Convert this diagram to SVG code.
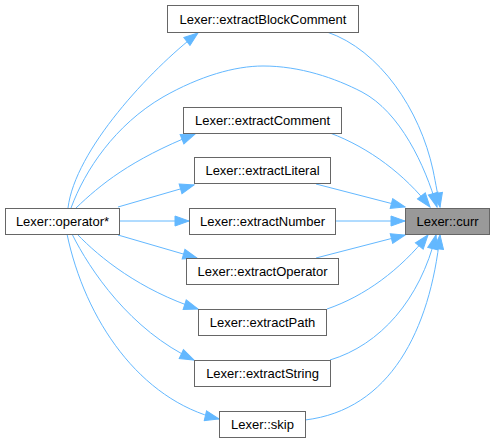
<svg xmlns="http://www.w3.org/2000/svg" width="495" height="443" viewBox="0 0 495 443">
<style>
.node rect{fill:#ffffff;stroke:#666666;stroke-width:1}
.node.hl rect{fill:#999999}
.node text{font-family:"Liberation Sans",Arial,Helvetica,sans-serif;font-size:13px;fill:#000000;text-anchor:middle}
.edge{fill:none;stroke:#63b8ff;stroke-width:1;marker-end:url(#ah)}
</style>
<defs>
<marker id="ah" markerUnits="userSpaceOnUse" markerWidth="16" markerHeight="12" refX="14" refY="5" orient="auto" viewBox="-1 -1 16 12">
<path d="M0,0 L14,5 L0,10 z" fill="#63b8ff" stroke="#63b8ff" stroke-width="1"/>
</marker>
</defs>
<rect width="495" height="443" fill="#ffffff"/>
<g id="edges">
<path class="edge" d="M327,32 C380,50 420,110 433,170 C436,185 438,196 440,207"/>
<path class="edge" d="M71,208 C85,170 115,125 163,97 C200,76 235,66 263,66 C300,66 335,78 362,92 C400,112 425,165 437,207"/>
<path class="edge" d="M330,133 C370,148 405,175 430,207"/>
<path class="edge" d="M316,184 L405,207"/>
<path class="edge" d="M336,221 L405,221"/>
<path class="edge" d="M316,258 L405,235"/>
<path class="edge" d="M327,309 C365,296 400,270 428,235"/>
<path class="edge" d="M330,360 C380,345 420,300 436,235"/>
<path class="edge" d="M305,420 C390,410 430,330 440,235"/>
<path class="edge" d="M68,208 C75,150 150,70 198,33"/>
<path class="edge" d="M76,208 C100,185 130,160 195,134"/>
<path class="edge" d="M118,207 L194,185"/>
<path class="edge" d="M119,221 L189,221"/>
<path class="edge" d="M118,235 L197,258"/>
<path class="edge" d="M77,234 C100,258 140,290 198,309"/>
<path class="edge" d="M72,234 C90,270 130,330 194,360"/>
<path class="edge" d="M67,234 C85,320 140,400 219,419"/>
</g>
<g id="node-extractBlockComment" class="node"><rect x="167.5" y="5.5" width="191" height="27"/><text x="263" y="23.5">Lexer::extractBlockComment</text></g>
<g id="node-extractComment" class="node"><rect x="183.5" y="107.5" width="158" height="26"/><text x="262.5" y="125">Lexer::extractComment</text></g>
<g id="node-extractLiteral" class="node"><rect x="194.5" y="157.5" width="136" height="26"/><text x="262.5" y="175">Lexer::extractLiteral</text></g>
<g id="node-operator" class="node"><rect x="5.5" y="208.5" width="114" height="26"/><text x="62.5" y="226">Lexer::operator*</text></g>
<g id="node-extractNumber" class="node"><rect x="189.5" y="208.5" width="146" height="26"/><text x="262.5" y="226">Lexer::extractNumber</text></g>
<g id="node-curr" class="node hl"><rect x="405.5" y="208.5" width="84" height="26"/><text x="447.5" y="226">Lexer::curr</text></g>
<g id="node-extractOperator" class="node"><rect x="186.5" y="258.5" width="152" height="26"/><text x="262.5" y="276">Lexer::extractOperator</text></g>
<g id="node-extractPath" class="node"><rect x="198.5" y="309.5" width="128" height="26"/><text x="262.5" y="327">Lexer::extractPath</text></g>
<g id="node-extractString" class="node"><rect x="194.5" y="360.5" width="136" height="26"/><text x="262.5" y="378">Lexer::extractString</text></g>
<g id="node-skip" class="node"><rect x="219.5" y="411.5" width="86" height="26"/><text x="262.5" y="429">Lexer::skip</text></g>
</svg>
